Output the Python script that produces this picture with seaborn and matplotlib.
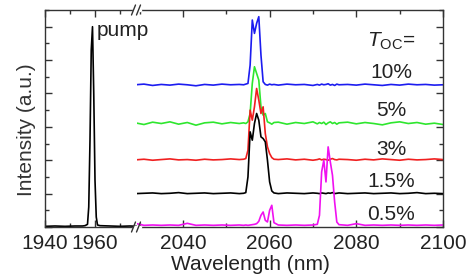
import numpy as np
import pandas as pd
import seaborn as sns
import matplotlib.pyplot as plt
from matplotlib.gridspec import GridSpec
from matplotlib.lines import Line2D
from matplotlib.ticker import MultipleLocator

# pump spectrum (left part of the broken axis)
pump_wl = [1940, 1944, 1948, 1952, 1955, 1956, 1957, 1957.5, 1958, 1958.5,
           1959, 1959.5, 1960, 1960.5, 1961, 1962, 1966, 1970, 1974, 1977]
pump_int = [0.02, 0.03, 0.02, 0.03, 0.03, 0.04, 0.08, 0.6, 2.6, 5.3,
            6.0, 4.0, 1.4, 0.3, 0.06, 0.04, 0.03, 0.02, 0.03, 0.02]

# laser spectra (right part)
wl = [2029, 2031, 2033, 2035, 2037, 2039, 2041, 2043, 2045, 2047, 2049, 2051, 2053,
      2054, 2054.5, 2055, 2055.5, 2056, 2056.5, 2057, 2057.5, 2058, 2058.5, 2059, 2059.5, 2060, 2060.5, 2061,
      2062, 2064, 2066, 2068, 2070,
      2071, 2071.5, 2072, 2072.5, 2073, 2073.5, 2074, 2074.5, 2075, 2075.5, 2076,
      2078, 2080, 2082, 2084, 2086, 2088, 2090, 2092, 2094, 2096, 2098, 2100]

t10 = [0.01, 0.03, -0.01, 0.02, 0.00, 0.03, 0.01, -0.02, 0.02, 0.00, 0.03, 0.01, 0.02,
       0.01, 0.03, 0.05, 0.6, 1.95, 1.55, 1.85, 2.05, 0.9, 0.1, 0.02, 0.00, 0.03, 0.01, 0.02,
       0.00, 0.03, 0.01, 0.02, -0.01,
       0.02, 0.00, 0.03, 0.01, 0.02, 0.04, 0.00, 0.02, -0.01, 0.03, 0.01,
       0.02, 0.00, 0.03, 0.01, -0.01, 0.02, 0.00, 0.03, 0.01, 0.02, 0.00, 0.01]
t5 = [0.02, -0.03, 0.04, 0.00, 0.05, -0.02, 0.03, -0.05, 0.02, 0.04, -0.01, 0.03, 0.00,
      0.02, 0.00, 0.05, 0.3, 1.2, 1.7, 1.5, 1.3, 0.5, 0.25, 0.3, 0.05, 0.02, -0.02, 0.03,
      0.04, -0.02, 0.03, 0.00, 0.05,
      -0.01, 0.03, 0.00, 0.04, -0.03, 0.02, 0.05, 0.00, 0.03, -0.02, 0.02,
      0.04, -0.01, 0.03, 0.00, -0.04, 0.02, 0.05, 0.00, 0.03, -0.02, 0.01, -0.03]
t3 = [0.01, 0.03, 0.00, 0.02, 0.04, 0.01, 0.02, 0.00, 0.03, 0.01, 0.02, 0.04, 0.02,
      0.03, 0.05, 0.3, 1.5, 1.2, 1.6, 2.15, 1.8, 1.4, 1.6, 0.8, 0.4, 0.2, 0.08, 0.03,
      0.02, 0.04, 0.01, 0.03, 0.00,
      0.02, 0.04, 0.01, 0.03, 0.02, 0.00, 0.03, 0.05, 0.02, 0.01, 0.03,
      0.02, 0.00, 0.03, 0.01, 0.04, 0.02, 0.00, 0.03, 0.01, 0.02, 0.04, 0.02]
t15 = [0.00, 0.01, 0.02, 0.00, 0.01, 0.03, 0.00, 0.01, 0.02, 0.00, 0.01, 0.02, 0.00,
       0.01, 0.03, 0.5, 1.85, 1.6, 2.1, 2.4, 2.2, 1.7, 1.65, 1.55, 1.0, 0.35, 0.08, 0.02,
       0.00, 0.02, 0.01, 0.00, 0.02,
       0.01, 0.00, 0.02, 0.01, 0.00, 0.02, 0.01, 0.03, 0.00, 0.01, 0.02,
       0.00, 0.01, 0.02, 0.00, 0.01, 0.02, 0.00, 0.01, 0.03, 0.00, 0.01, 0.00]
t05 = [0.06, 0.00, 0.01, 0.00, 0.01, 0.00, 0.06, 0.00, 0.01, 0.00, 0.01, 0.00, 0.01,
       0.00, 0.01, 0.00, 0.01, 0.02, 0.03, 0.05, 0.12, 0.3, 0.4, 0.15, 0.1, 0.45, 0.6, 0.08,
       0.01, 0.00, 0.01, 0.00, 0.01,
       0.03, 0.3, 1.6, 1.95, 1.3, 2.35, 1.9, 1.5, 0.7, 0.1, 0.02,
       0.00, 0.05, 0.00, 0.01, 0.00, 0.01, 0.00, 0.01, 0.00, 0.01, 0.00, 0.01]

labels = ['10%', '5%', '3%', '1.5%', '0.5%']
offsets = [4.25, 3.1, 2.0, 1.0, 0.05]
label_y = [4.62, 3.48, 2.31, 1.35, 0.36]
colors = ['#1c1cf0', '#2ee62e', '#f02020', 'black', '#f010f0']
traces = [t10, t5, t3, t15, t05]

sns.set_style('ticks')
plt.rcParams['font.family'] = ['Liberation Sans', 'DejaVu Sans']
plt.rcParams['font.size'] = 15
plt.rcParams['mathtext.fontset'] = 'custom'
plt.rcParams['mathtext.rm'] = 'Liberation Sans'
plt.rcParams['mathtext.it'] = 'Liberation Sans:italic'

fig = plt.figure(figsize=(4.75, 2.77), dpi=100)
gs = GridSpec(1, 2, width_ratios=[92, 306], wspace=0,
              left=45/475, right=443/475, bottom=1-227/277, top=1-10/277)
ax1 = fig.add_subplot(gs[0])
ax2 = fig.add_subplot(gs[1], sharey=ax1)

sns.lineplot(x=pump_wl, y=pump_int, ax=ax1, color='black', linewidth=1.2)
fig.text(97/475, 1 - 31/277, 'pump', fontsize=15, va='center', ha='left', color='#222222')

for name, off, ly, c, tr in zip(labels, offsets, label_y, colors, traces):
    df = pd.DataFrame({'wl': wl, 'I': np.array(tr) + off})
    sns.lineplot(data=df, x='wl', y='I', ax=ax2, color=c, linewidth=1.2)
    ax2.text(2088, ly, name, ha='center', va='center', fontsize=15, color='#222222')
ax2.text(2088, 5.55, r'$T_{\mathrm{OC}}$=', ha='center', va='center', fontsize=15, color='#222222')

ax1.set_xlim(1940, 1976.8)
ax2.set_xlim(2029.4, 2100)
ax1.set_ylim(0, 6.5)
ax1.set_xticks([1940, 1960])
ax1.xaxis.set_minor_locator(MultipleLocator(10))
ax2.set_xticks([2040, 2060, 2080, 2100])
ax2.xaxis.set_minor_locator(MultipleLocator(10))
ax1.yaxis.set_major_locator(MultipleLocator(1))
ax1.yaxis.set_minor_locator(MultipleLocator(0.5))

for ax in (ax1, ax2):
    ax.set_xlabel('')
    ax.set_ylabel('')
    ax.tick_params(which='both', direction='in', top=True, bottom=True, width=1, color='#333333')
    ax.tick_params(which='major', length=5, labelsize=15, pad=5, labelcolor='#222222')
    ax.tick_params(which='minor', length=3)
    for s in ax.spines.values():
        s.set_color('#333333')
        s.set_linewidth(1)

ax1.spines['right'].set_visible(False)
ax2.spines['left'].set_visible(False)
ax1.tick_params(axis='y', which='both', left=True, right=False, labelleft=False)
ax2.tick_params(axis='y', which='both', left=False, right=True, labelleft=False, labelright=False)

# break marks
bx = 137 / 475
for yb in (1 - 10/277, 1 - 227/277):
    fig.add_artist(Line2D([bx - 3/475, bx + 3/475], [yb, yb], color='white', lw=2.5,
                          transform=fig.transFigure))
    for dx in (-3.5, 1.5):
        fig.add_artist(Line2D([bx + (dx - 2)/475, bx + (dx + 2)/475],
                              [yb - 5/277, yb + 5/277], color='#333333', lw=1,
                              transform=fig.transFigure))

fig.text(250/475, 1 - 265/277, 'Wavelength (nm)', ha='center', va='center', fontsize=15, color='#222222')
fig.text(26/475, 1 - 130/277, 'Intensity (a.u.)', ha='center', va='center',
         rotation=90, fontsize=15, color='#333333')

fig.savefig('out.png', dpi=100)
